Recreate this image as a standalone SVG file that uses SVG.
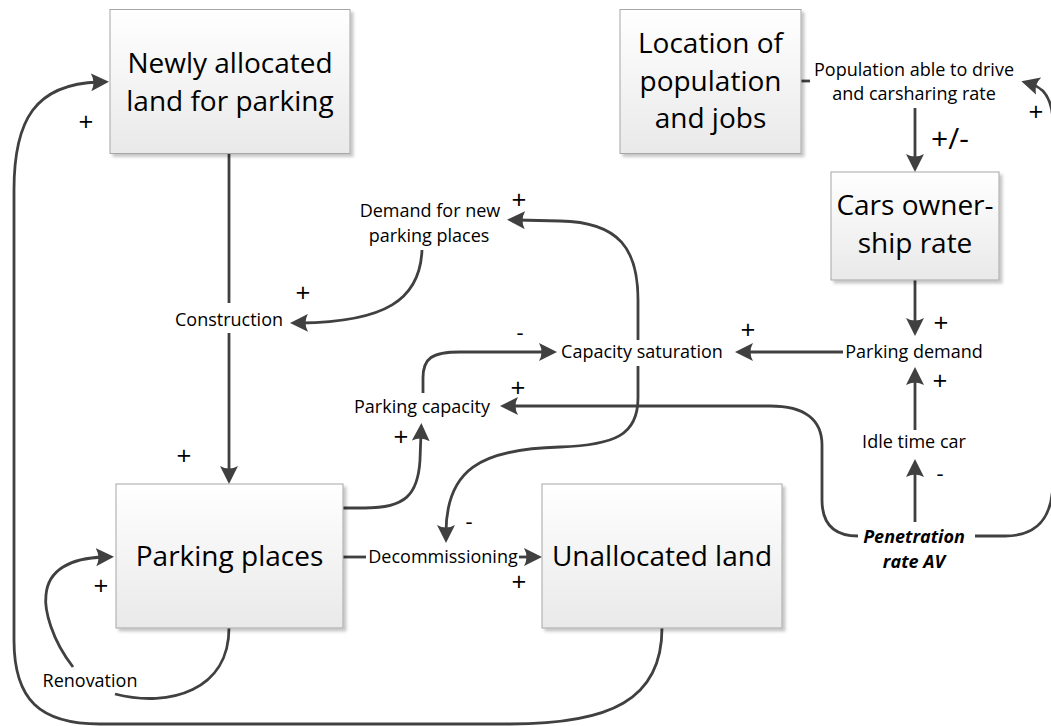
<svg xmlns="http://www.w3.org/2000/svg" width="1051" height="726" viewBox="0 0 1051 726">
<style>
.box{fill:url(#g);stroke:#a6a6a6;stroke-width:1;filter:url(#sh)}
.bt{font-family:"Open Sans","Noto Sans",sans-serif;font-size:28px;fill:#000;text-anchor:middle}
.lt{font-family:"Open Sans","Noto Sans",sans-serif;font-size:18px;fill:#000;text-anchor:middle}
.bi{font-weight:bold;font-style:italic}
.sg{font-family:"Open Sans","Noto Sans",sans-serif;font-size:26px;fill:#000;text-anchor:middle}
.mn{font-family:"Open Sans","Noto Sans",sans-serif;font-size:22px;fill:#000;text-anchor:middle}
.c{fill:none;stroke:#404040;stroke-width:2.8}
.a{marker-end:url(#ah)}
</style>
<defs>
<linearGradient id="g" x1="0" y1="0" x2="0" y2="1">
<stop offset="0" stop-color="#ffffff"/>
<stop offset="1" stop-color="#e9e9e9"/>
</linearGradient>
<filter id="sh" x="-10%" y="-10%" width="130%" height="130%">
<feDropShadow dx="3" dy="3" stdDeviation="1.5" flood-color="#000" flood-opacity="0.22"/>
</filter>
<marker id="ah" markerUnits="userSpaceOnUse" markerWidth="20" markerHeight="20" refX="8" refY="9" orient="auto">
<path d="M0,0 L18,9 L0,18 Q5,9 0,0 Z" fill="#404040"/>
</marker>
</defs>

<g id="connectors">
<path class="c" d="M801,81 L810,81"/>
<path class="c a" d="M915,108 L915,162"/>
<path class="c a" d="M915,280 L915,326"/>
<path class="c a" d="M915,430 L915,377"/>
<path class="c a" d="M915,522 L915,469"/>
<path class="c a" d="M843,352 L745,352"/>
<path class="c a" d="M423,393 L423,378 C423,358 432,352 460,352 L547,352"/>
<path class="c a" d="M858,536 C832,536 822,522 822,500 L822,445 C822,420 805,406 770,406 L510,406"/>
<path class="c a" d="M975,536 L1005,536 C1040,536 1053,515 1053,480 L1053,125 C1053,100 1045,88 1031,84"/>
<path class="c a" d="M638,340 L638,300 C638,250 620,222 560,221 L517,220"/>
<path class="c a" d="M638,366 L638,398 C638,435 615,445 560,447 C480,449 446,470 446,533"/>
<path class="c a" d="M422,250 C420,300 385,322 300,323"/>
<path class="c a" d="M343,508 L365,508 C405,508 418,495 420,460 L421,433"/>
<path class="c" d="M229,154 L229,303"/>
<path class="c a" d="M229,333 L229,474"/>
<path class="c" d="M343,557 L366,557"/>
<path class="c a" d="M519,557 L532,557"/>
<path class="c" d="M229,628 C229,690 170,708 115,694"/>
<path class="c a" d="M73,667 C52,640 44,610 46,595 C48,570 70,558 104,557"/>
<path class="c a" d="M662,628 C662,700 610,724 510,724 L100,724 C40,724 14,700 14,640 L14,190 C14,120 35,84 99,82"/>
</g>

<g id="newly-allocated">
<rect class="box" x="110" y="9.5" width="240" height="144"/>
<text class="bt" x="230" y="73">Newly allocated</text>
<text class="bt" x="230" y="111">land for parking</text>
</g>
<g id="location">
<rect class="box" x="620" y="9.5" width="181" height="144"/>
<text class="bt" x="710.5" y="53">Location of</text>
<text class="bt" x="710.5" y="91">population</text>
<text class="bt" x="710.5" y="128">and jobs</text>
</g>
<g id="cars-ownership">
<rect class="box" x="831" y="172" width="168" height="108"/>
<text class="bt" x="915" y="215">Cars owner-</text>
<text class="bt" x="915" y="253">ship rate</text>
</g>
<g id="parking-places">
<rect class="box" x="116" y="484" width="227" height="144"/>
<text class="bt" x="229.5" y="566">Parking places</text>
</g>
<g id="unallocated-land">
<rect class="box" x="542" y="484" width="240" height="144"/>
<text class="bt" x="662" y="566">Unallocated land</text>
</g>

<g id="population-able">
<text class="lt" x="914" y="76">Population able to drive</text>
<text class="lt" x="914" y="100">and carsharing rate</text>
</g>
<g id="demand-new">
<text class="lt" x="430" y="217">Demand for new</text>
<text class="lt" x="429" y="242">parking places</text>
</g>
<g id="construction"><text class="lt" x="229" y="326">Construction</text></g>
<g id="capacity-saturation"><text class="lt" x="642" y="358">Capacity saturation</text></g>
<g id="parking-demand"><text class="lt" x="914" y="358">Parking demand</text></g>
<g id="parking-capacity"><text class="lt" x="422" y="413">Parking capacity</text></g>
<g id="idle-time"><text class="lt" x="914" y="448">Idle time car</text></g>
<g id="penetration">
<text class="lt bi" x="914" y="543">Penetration</text>
<text class="lt bi" x="914" y="568">rate AV</text>
</g>
<g id="decommissioning"><text class="lt" x="443" y="563">Decommissioning</text></g>
<g id="renovation"><text class="lt" x="90" y="687">Renovation</text></g>

<g id="signs">
<text class="sg" x="86" y="131">+</text>
<text class="sg" x="1036" y="121">+</text>
<text class="sg" x="950" y="149" style="font-size:30px">+/-</text>
<text class="sg" x="519" y="209">+</text>
<text class="sg" x="303" y="302">+</text>
<text class="mn" x="520" y="340">-</text>
<text class="sg" x="748" y="339">+</text>
<text class="sg" x="941" y="332">+</text>
<text class="sg" x="940" y="390">+</text>
<text class="sg" x="518" y="397">+</text>
<text class="sg" x="401" y="446">+</text>
<text class="sg" x="184" y="465">+</text>
<text class="mn" x="940" y="481">-</text>
<text class="mn" x="469" y="529">-</text>
<text class="sg" x="519" y="591">+</text>
<text class="sg" x="101" y="595">+</text>
</g>
</svg>
